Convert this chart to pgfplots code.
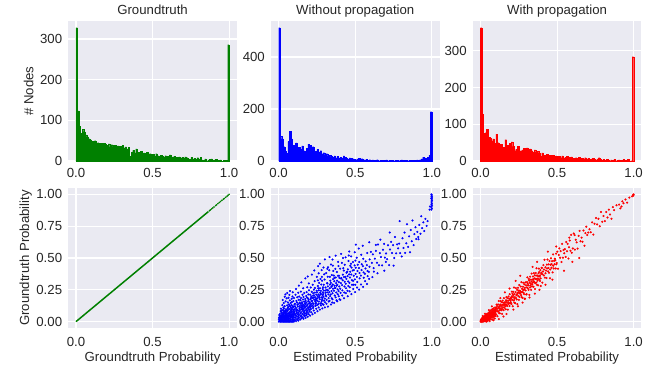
\documentclass[border=0pt]{standalone}
\usepackage{fontspec}
\setmainfont{Liberation Sans}
\usepackage{pgfplots}
\pgfplotsset{compat=1.18}
\definecolor{bg}{HTML}{EAEAF2}
\definecolor{txt}{HTML}{262626}
\definecolor{mg}{HTML}{008000}
\newcommand{\fs}{\fontsize{13.2}{15.8}\selectfont}
\pgfplotsset{
 sb/.style={
  scale only axis, width=168.5pt, height=140pt,
  axis background/.style={fill=bg},
  axis line style={draw=none},
  major tick length=0pt, tick style={draw=none},
  grid=major, major grid style={white, line width=1.1pt},
  tick label style={font=\fs, text=txt},
  label style={font=\fs, text=txt},
  every axis title shift=0pt,
  title style={font=\fs, text=txt, at={(axis description cs:0.5,1.046)}, anchor=base},
  yticklabel style={anchor=east, inner sep=0pt, xshift=-6pt},
  xmin=-0.05, xmax=1.05,
  xtick={0,0.5,1}, xticklabels={0.0,0.5,1.0},
 },
 hist/.style={sb, ymin=0, xticklabel style={anchor=base, yshift=-16pt}},
 sc/.style={sb, ymin=-0.05, ymax=1.05, ytick={0,0.25,0.5,0.75,1},
  yticklabels={0.00,0.25,0.50,0.75,1.00},
  xticklabel style={anchor=base, yshift=-18pt},
  xlabel style={at={(axis description cs:0.5,-0.239)}, anchor=base}},
}
\begin{document}
\begin{tikzpicture}
\useasboundingbox (0,0) rectangle (652pt,367pt);
% ---------------- top row: histograms ----------------
\begin{axis}[hist, at={(68.3pt,346pt)}, anchor=north west, ymax=344.4,
  ytick={0,100,200,300}, yticklabels={0,100,200,300},
  title={Groundtruth}, ylabel={\# Nodes},
  ylabel style={at={(axis description cs:-0.208,0.5)}, anchor=base}]
\addplot[const plot, fill=mg, draw=mg, line width=0.2pt] table[row sep=\\, x expr=\coordindex/100, y index=0]{
328\\123\\85\\68\\78\\72\\64\\60\\55\\52\\48\\40\\50\\42\\45\\38\\44\\40\\43\\41\\39\\42\\35\\40\\36\\38\\34\\37\\33\\36\\38\\32\\35\\30\\34\\12\\22\\26\\20\\30\\22\\18\\24\\16\\20\\17\\22\\15\\18\\14\\16\\12\\18\\13\\11\\14\\12\\10\\13\\11\\9\\15\\8\\10\\12\\9\\8\\10\\7\\9\\6\\10\\8\\5\\4\\9\\5\\6\\4\\8\\5\\9\\3\\2\\5\\0\\3\\4\\5\\2\\3\\4\\1\\2\\3\\0\\2\\1\\2\\286\\286\\
} \closedcycle;
\end{axis}
\begin{axis}[hist, at={(271pt,346pt)}, anchor=north west, ymax=538.6,
  ytick={0,200,400}, yticklabels={0,200,400},
  title={Without propagation}]
\addplot[const plot, fill=blue, draw=blue, line width=0.2pt] table[row sep=\\, x expr=\coordindex/100, y index=0]{
513\\95\\85\\55\\38\\30\\75\\115\\85\\60\\55\\70\\48\\52\\45\\58\\40\\35\\50\\65\\60\\42\\55\\30\\38\\45\\35\\40\\28\\32\\25\\28\\20\\22\\18\\15\\20\\12\\18\\10\\15\\12\\20\\14\\10\\8\\12\\10\\9\\7\\5\\8\\10\\6\\9\\5\\4\\6\\3\\5\\2\\4\\3\\2\\5\\1\\2\\3\\1\\2\\4\\1\\2\\3\\2\\1\\3\\2\\1\\2\\4\\1\\2\\3\\1\\2\\3\\1\\2\\3\\4\\2\\5\\8\\15\\12\\10\\14\\22\\190\\190\\
} \closedcycle;
\end{axis}
\begin{axis}[hist, at={(472.8pt,346pt)}, anchor=north west, ymax=381,
  ytick={0,100,200,300}, yticklabels={0,100,200,300},
  title={With propagation}]
\addplot[const plot, fill=red, draw=red, line width=0.2pt] table[row sep=\\, x expr=\coordindex/100, y index=0]{
363\\127\\75\\77\\86\\65\\62\\55\\60\\48\\73\\50\\33\\45\\34\\38\\58\\42\\30\\48\\52\\40\\28\\32\\40\\22\\28\\30\\35\\32\\36\\30\\33\\28\\25\\30\\24\\26\\22\\12\\22\\16\\15\\18\\14\\16\\12\\15\\10\\14\\11\\12\\9\\14\\8\\10\\12\\7\\10\\11\\8\\6\\9\\7\\10\\5\\8\\6\\9\\5\\7\\4\\6\\8\\5\\3\\6\\9\\4\\3\\5\\2\\4\\3\\1\\3\\2\\4\\1\\2\\3\\1\\2\\4\\2\\0\\5\\0\\1\\284\\284\\
} \closedcycle;
\end{axis}
% ---------------- bottom row: scatters ----------------
\begin{axis}[sc, at={(68.3pt,179pt)}, anchor=north west,
  xlabel={Groundtruth Probability}, ylabel={Groundtruth Probability},
  ylabel style={at={(axis description cs:-0.232,0.5)}, anchor=base}]
\addplot[mg, line width=1.5pt] coordinates {(0,0) (0.865,0.865)};
\addplot[only marks, mark=*, mg, mark size=0.6pt] coordinates {
(0.872,0.872)(0.878,0.878)(0.886,0.886)(0.893,0.893)(0.901,0.901)(0.912,0.912)(0.918,0.918)(0.927,0.927)(0.936,0.936)(0.944,0.944)(0.953,0.953)(0.962,0.962)(0.968,0.968)(0.977,0.977)(0.986,0.986)(0.993,0.993)(1.000,1.000)};
\end{axis}
\begin{axis}[sc, at={(271pt,179pt)}, anchor=north west, xlabel={Estimated Probability}]
\addplot[only marks, mark=*, blue, mark size=0.85pt] coordinates {
(0.002,0.000)(0.005,0.013)(0.003,0.031)(0.006,0.007)(0.004,0.052)(0.001,0.020)(0.007,0.041)
(0.009,0.000)(0.011,0.024)(0.008,0.061)(0.012,0.009)(0.010,0.038)(0.013,0.083)(0.009,0.017)(0.012,0.047)
(0.015,0.000)(0.017,0.031)(0.014,0.012)(0.018,0.069)(0.016,0.050)(0.019,0.004)(0.015,0.102)(0.018,0.022)(0.016,0.040)
(0.021,0.000)(0.023,0.058)(0.020,0.016)(0.024,0.035)(0.022,0.089)(0.025,0.006)(0.021,0.027)(0.024,0.130)(0.022,0.047)(0.020,0.074)
(0.027,0.000)(0.029,0.019)(0.026,0.044)(0.030,0.067)(0.028,0.008)(0.031,0.112)(0.027,0.033)(0.030,0.053)(0.026,0.170)(0.029,0.091)
(0.033,0.000)(0.035,0.028)(0.032,0.061)(0.036,0.013)(0.034,0.079)(0.037,0.042)(0.033,0.146)(0.036,0.004)(0.034,0.102)(0.032,0.036)
(0.039,0.000)(0.041,0.051)(0.038,0.022)(0.042,0.087)(0.040,0.010)(0.043,0.064)(0.039,0.121)(0.042,0.033)(0.040,0.196)(0.041,0.073)
(0.045,0.000)(0.047,0.016)(0.044,0.045)(0.048,0.098)(0.046,0.029)(0.049,0.057)(0.045,0.159)(0.048,0.006)(0.046,0.078)(0.044,0.214)(0.047,0.039)
(0.051,0.000)(0.053,0.035)(0.050,0.070)(0.054,0.012)(0.052,0.054)(0.055,0.128)(0.051,0.024)(0.054,0.088)(0.052,0.183)(0.050,0.043)
(0.057,0.000)(0.059,0.063)(0.056,0.020)(0.060,0.107)(0.058,0.039)(0.061,0.008)(0.057,0.082)(0.060,0.151)(0.058,0.048)(0.056,0.225)
(0.063,0.000)(0.065,0.027)(0.062,0.092)(0.066,0.050)(0.064,0.014)(0.067,0.136)(0.063,0.067)(0.066,0.036)(0.064,0.188)(0.062,0.115)
(0.069,0.000)(0.071,0.044)(0.068,0.010)(0.072,0.076)(0.070,0.058)(0.073,0.167)(0.069,0.025)(0.072,0.099)(0.070,0.210)(0.071,0.126)
(0.075,0.000)(0.077,0.018)(0.074,0.065)(0.078,0.038)(0.076,0.118)(0.079,0.086)(0.075,0.052)(0.078,0.145)(0.076,0.006)(0.074,0.240)
(0.081,0.000)(0.083,0.056)(0.080,0.029)(0.084,0.095)(0.082,0.072)(0.085,0.180)(0.081,0.013)(0.084,0.131)(0.082,0.042)(0.080,0.109)
(0.087,0.000)(0.089,0.034)(0.086,0.081)(0.090,0.017)(0.088,0.060)(0.091,0.122)(0.087,0.047)(0.090,0.198)(0.088,0.100)(0.086,0.154)
(0.093,0.000)(0.095,0.070)(0.092,0.023)(0.096,0.041)(0.094,0.112)(0.097,0.088)(0.093,0.009)(0.096,0.162)(0.094,0.055)(0.092,0.231)
(0.099,0.000)(0.101,0.031)(0.098,0.093)(0.102,0.062)(0.100,0.015)(0.103,0.137)(0.099,0.046)(0.102,0.078)(0.100,0.185)(0.098,0.119)
(0.106,0.010)(0.108,0.058)(0.105,0.097)(0.109,0.034)(0.107,0.141)(0.104,0.076)(0.110,0.212)(0.106,0.121)
(0.113,0.021)(0.115,0.086)(0.112,0.049)(0.116,0.163)(0.114,0.004)(0.111,0.109)(0.117,0.067)(0.113,0.256)
(0.120,0.039)(0.122,0.131)(0.119,0.075)(0.123,0.015)(0.121,0.192)(0.118,0.098)(0.124,0.057)(0.120,0.150)
(0.127,0.026)(0.129,0.069)(0.126,0.118)(0.130,0.044)(0.128,0.227)(0.125,0.089)(0.131,0.172)(0.127,0.137)(0.129,0.008)
(0.134,0.053)(0.136,0.102)(0.133,0.031)(0.137,0.149)(0.135,0.080)(0.132,0.283)(0.138,0.124)(0.134,0.197)
(0.141,0.017)(0.143,0.064)(0.140,0.113)(0.144,0.041)(0.142,0.168)(0.139,0.091)(0.145,0.236)(0.141,0.140)
(0.148,0.048)(0.150,0.097)(0.147,0.075)(0.151,0.129)(0.149,0.026)(0.146,0.186)(0.152,0.152)(0.148,0.309)(0.150,0.111)
(0.155,0.060)(0.157,0.035)(0.154,0.120)(0.158,0.084)(0.156,0.211)(0.153,0.143)(0.159,0.174)(0.155,0.101)
(0.162,0.022)(0.164,0.072)(0.161,0.133)(0.165,0.051)(0.163,0.098)(0.160,0.262)(0.166,0.157)(0.162,0.194)(0.164,0.116)
(0.169,0.043)(0.171,0.108)(0.168,0.082)(0.172,0.145)(0.170,0.063)(0.167,0.225)(0.173,0.178)(0.169,0.127)
(0.176,0.030)(0.178,0.091)(0.175,0.139)(0.179,0.066)(0.177,0.117)(0.174,0.340)(0.180,0.201)(0.176,0.163)(0.178,0.048)
(0.183,0.077)(0.185,0.124)(0.182,0.055)(0.186,0.188)(0.184,0.101)(0.181,0.150)(0.187,0.270)(0.183,0.232)
(0.190,0.038)(0.192,0.112)(0.189,0.087)(0.193,0.160)(0.191,0.069)(0.188,0.135)(0.194,0.214)(0.190,0.355)(0.192,0.182)
(0.197,0.058)(0.199,0.143)(0.196,0.099)(0.200,0.122)(0.198,0.246)(0.195,0.171)(0.201,0.080)(0.197,0.300)
(0.205,0.047)(0.207,0.131)(0.204,0.092)(0.208,0.176)(0.206,0.212)(0.203,0.153)(0.209,0.268)(0.205,0.110)
(0.213,0.073)(0.215,0.162)(0.212,0.120)(0.216,0.234)(0.214,0.197)(0.211,0.099)(0.217,0.370)(0.213,0.141)
(0.221,0.058)(0.223,0.145)(0.220,0.186)(0.224,0.107)(0.222,0.290)(0.219,0.163)(0.225,0.224)(0.221,0.127)
(0.229,0.088)(0.231,0.206)(0.228,0.139)(0.232,0.172)(0.230,0.251)(0.227,0.116)(0.233,0.402)(0.229,0.188)
(0.237,0.069)(0.239,0.157)(0.236,0.228)(0.240,0.124)(0.238,0.193)(0.235,0.318)(0.241,0.142)(0.237,0.265)
(0.245,0.101)(0.247,0.181)(0.244,0.146)(0.248,0.243)(0.246,0.212)(0.243,0.128)(0.249,0.352)(0.245,0.167)
(0.253,0.082)(0.255,0.199)(0.252,0.164)(0.256,0.280)(0.254,0.133)(0.251,0.230)(0.257,0.436)(0.253,0.183)
(0.261,0.112)(0.263,0.157)(0.260,0.214)(0.264,0.305)(0.262,0.246)(0.259,0.137)(0.265,0.190)(0.261,0.380)
(0.269,0.095)(0.271,0.227)(0.268,0.176)(0.272,0.141)(0.270,0.262)(0.267,0.203)(0.273,0.335)(0.269,0.455)
(0.277,0.127)(0.279,0.190)(0.276,0.242)(0.280,0.161)(0.278,0.291)(0.275,0.218)(0.281,0.405)(0.277,0.146)
(0.285,0.104)(0.287,0.208)(0.284,0.172)(0.288,0.257)(0.286,0.139)(0.283,0.322)(0.289,0.230)(0.285,0.187)
(0.293,0.133)(0.295,0.244)(0.292,0.196)(0.296,0.165)(0.294,0.290)(0.291,0.218)(0.297,0.372)(0.293,0.425)
(0.302,0.112)(0.305,0.226)(0.301,0.181)(0.306,0.268)(0.303,0.152)(0.300,0.331)(0.307,0.208)(0.302,0.489)
(0.312,0.140)(0.315,0.251)(0.311,0.199)(0.316,0.302)(0.313,0.171)(0.310,0.382)(0.317,0.230)
(0.322,0.118)(0.325,0.214)(0.321,0.277)(0.326,0.185)(0.323,0.245)(0.320,0.353)(0.327,0.158)(0.322,0.428)
(0.332,0.163)(0.335,0.291)(0.331,0.231)(0.336,0.200)(0.333,0.262)(0.330,0.404)(0.337,0.322)(0.332,0.507)
(0.342,0.135)(0.345,0.240)(0.341,0.305)(0.346,0.184)(0.343,0.272)(0.340,0.214)(0.347,0.366)(0.342,0.449)
(0.352,0.176)(0.355,0.258)(0.351,0.223)(0.356,0.334)(0.353,0.292)(0.350,0.150)(0.357,0.398)(0.352,0.488)
(0.362,0.147)(0.365,0.282)(0.361,0.243)(0.366,0.205)(0.363,0.318)(0.360,0.362)(0.367,0.264)
(0.372,0.191)(0.375,0.302)(0.371,0.264)(0.376,0.229)(0.373,0.347)(0.370,0.415)(0.377,0.168)(0.372,0.518)
(0.382,0.160)(0.385,0.253)(0.381,0.322)(0.386,0.215)(0.383,0.289)(0.380,0.390)(0.387,0.361)
(0.392,0.199)(0.395,0.276)(0.391,0.240)(0.396,0.344)(0.393,0.310)(0.390,0.437)(0.397,0.176)
(0.403,0.171)(0.406,0.302)(0.402,0.259)(0.407,0.338)(0.404,0.226)(0.401,0.416)(0.408,0.532)
(0.415,0.205)(0.418,0.325)(0.414,0.287)(0.419,0.369)(0.416,0.246)(0.413,0.462)
(0.427,0.184)(0.430,0.276)(0.426,0.351)(0.431,0.313)(0.428,0.229)(0.425,0.401)(0.432,0.447)
(0.439,0.224)(0.442,0.336)(0.438,0.298)(0.443,0.384)(0.440,0.262)(0.437,0.505)
(0.451,0.200)(0.454,0.316)(0.450,0.358)(0.455,0.280)(0.452,0.411)(0.449,0.243)(0.456,0.477)
(0.463,0.238)(0.466,0.347)(0.462,0.305)(0.467,0.392)(0.464,0.270)(0.461,0.551)(0.468,0.439)
(0.475,0.216)(0.478,0.326)(0.474,0.370)(0.479,0.290)(0.476,0.425)(0.473,0.512)
(0.487,0.256)(0.490,0.361)(0.486,0.321)(0.491,0.405)(0.488,0.290)(0.485,0.468)
(0.210,0.185)(0.226,0.205)(0.242,0.175)(0.258,0.262)(0.274,0.215)(0.290,0.270)(0.306,0.245)(0.318,0.300)(0.334,0.352)(0.348,0.280)(0.364,0.345)(0.378,0.282)(0.394,0.360)(0.410,0.342)
(0.422,0.420)(0.436,0.352)(0.448,0.392)(0.460,0.372)(0.472,0.455)(0.484,0.402)(0.496,0.442)(0.256,0.325)(0.282,0.352)(0.318,0.415)(0.354,0.440)(0.388,0.470)(0.420,0.500)(0.458,0.520)
(0.499,0.232)(0.502,0.375)(0.498,0.332)(0.503,0.423)(0.500,0.290)(0.497,0.545)(0.504,0.605)(0.501,0.480)
(0.512,0.268)(0.515,0.398)(0.511,0.352)(0.516,0.447)(0.513,0.312)(0.510,0.502)
(0.525,0.252)(0.528,0.382)(0.524,0.421)(0.529,0.340)(0.526,0.468)(0.523,0.574)
(0.538,0.292)(0.541,0.405)(0.537,0.362)(0.542,0.451)(0.539,0.525)
(0.551,0.273)(0.554,0.387)(0.550,0.436)(0.555,0.345)(0.552,0.494)(0.549,0.596)
(0.564,0.318)(0.567,0.418)(0.563,0.376)(0.568,0.473)
(0.577,0.296)(0.580,0.397)(0.576,0.444)(0.581,0.357)(0.578,0.539)
(0.590,0.336)(0.593,0.432)(0.589,0.391)(0.594,0.489)(0.591,0.624)
(0.602,0.548)(0.609,0.462)(0.615,0.529)(0.622,0.393)(0.628,0.495)(0.635,0.556)(0.642,0.462)(0.648,0.606)(0.655,0.443)(0.661,0.538)
(0.668,0.507)(0.675,0.442)(0.681,0.565)(0.688,0.611)(0.694,0.503)(0.701,0.536)(0.708,0.491)(0.714,0.600)(0.721,0.444)(0.727,0.567)
(0.734,0.627)(0.740,0.540)(0.747,0.601)(0.754,0.500)(0.760,0.665)(0.767,0.537)(0.773,0.607)(0.780,0.576)(0.787,0.613)(0.793,0.539)
(0.725,0.700)(0.790,0.790)(0.664,0.644)(0.634,0.603)(0.612,0.350)(0.690,0.400)(0.750,0.440)(0.645,0.380)(0.700,0.470)(0.620,0.420)
(0.803,0.512)(0.808,0.655)(0.815,0.578)(0.822,0.700)(0.826,0.540)(0.833,0.615)(0.838,0.765)(0.845,0.588)(0.851,0.670)(0.857,0.545)(0.862,0.720)(0.869,0.632)(0.874,0.795)(0.881,0.602)(0.886,0.688)(0.893,0.742)(0.898,0.650)
(0.905,0.705)(0.911,0.665)(0.913,0.648)(0.918,0.760)(0.926,0.690)(0.931,0.828)(0.937,0.735)(0.944,0.780)(0.951,0.712)(0.958,0.808)(0.966,0.752)(0.972,0.790)
(0.985,0.880)(0.988,0.905)
(0.997,0.880)(0.996,0.900)(0.998,0.920)(0.997,0.940)(0.999,0.955)(0.996,0.970)(0.998,0.985)(0.997,1.000)
(1.000,0.890)(1.001,0.910)(1.000,0.930)(1.001,0.950)(1.000,0.965)(1.001,0.980)(1.000,0.995)
};
\end{axis}
\begin{axis}[sc, at={(472.8pt,179pt)}, anchor=north west, xlabel={Estimated Probability}]
\addplot[only marks, mark=*, red, mark size=0.85pt] coordinates {
(0.001,0.000)(0.003,0.004)(0.002,0.011)(0.005,0.001)(0.004,0.018)(0.006,0.008)(0.007,0.000)(0.008,0.014)(0.009,0.025)(0.010,0.005)(0.011,0.019)(0.012,0.000)(0.013,0.010)(0.014,0.029)(0.015,0.016)(0.016,0.003)(0.017,0.022)(0.018,0.035)(0.019,0.009)(0.020,0.017)(0.021,0.028)(0.022,0.001)(0.023,0.041)(0.024,0.013)(0.025,0.024)(0.026,0.032)(0.027,0.006)(0.028,0.019)(0.029,0.046)(0.030,0.027)(0.031,0.011)(0.032,0.036)(0.033,0.022)(0.034,0.050)(0.035,0.003)(0.036,0.030)(0.037,0.017)(0.038,0.041)(0.039,0.026)(0.040,0.057)(0.041,0.012)(0.042,0.034)(0.043,0.046)(0.044,0.022)(0.045,0.063)(0.046,0.038)(0.047,0.007)(0.048,0.029)(0.049,0.051)(0.050,0.042)
(0.051,0.018)(0.052,0.066)(0.053,0.033)(0.054,0.048)(0.055,0.025)(0.056,0.059)(0.057,0.040)(0.058,0.074)(0.059,0.012)(0.060,0.052)(0.061,0.036)(0.062,0.065)(0.063,0.028)(0.064,0.083)(0.065,0.047)(0.066,0.058)(0.067,0.021)(0.068,0.071)(0.069,0.043)(0.070,0.091)(0.071,0.055)(0.072,0.034)(0.073,0.066)(0.074,0.049)(0.075,0.080)(0.076,0.016)(0.077,0.060)(0.078,0.098)(0.079,0.044)(0.080,0.072)(0.081,0.057)(0.082,0.030)(0.083,0.087)(0.084,0.064)(0.085,0.048)(0.086,0.105)(0.087,0.076)(0.088,0.039)(0.089,0.062)(0.090,0.093)(0.091,0.053)(0.092,0.081)(0.093,0.024)(0.094,0.070)(0.095,0.112)(0.096,0.060)(0.097,0.088)(0.098,0.045)(0.099,0.076)(0.100,0.099)
(0.015,0.045)(0.030,0.062)(0.055,0.090)(0.075,0.120)(0.040,0.000)(0.060,0.004)(0.085,0.010)
(0.101,0.099)(0.103,0.057)(0.105,0.134)(0.107,0.084)(0.109,0.122)(0.111,0.043)(0.113,0.101)(0.115,0.135)(0.117,0.081)(0.119,0.162)(0.121,0.068)(0.123,0.122)(0.125,0.104)(0.127,0.065)(0.129,0.135)(0.131,0.161)(0.133,0.098)(0.135,0.116)(0.137,0.090)(0.139,0.152)(0.141,0.061)(0.143,0.131)(0.145,0.165)(0.147,0.114)(0.149,0.148)
(0.151,0.090)(0.153,0.184)(0.155,0.109)(0.157,0.149)(0.159,0.131)(0.161,0.154)(0.163,0.136)(0.165,0.098)(0.167,0.168)(0.169,0.193)(0.171,0.131)(0.173,0.149)(0.175,0.123)(0.177,0.184)(0.179,0.094)(0.181,0.164)(0.183,0.197)(0.185,0.147)(0.187,0.181)(0.189,0.123)(0.191,0.216)(0.193,0.142)(0.195,0.182)(0.197,0.163)(0.199,0.183)
(0.104,0.110)(0.112,0.080)(0.118,0.112)(0.126,0.090)(0.134,0.128)(0.142,0.100)(0.152,0.130)(0.162,0.120)(0.172,0.162)(0.182,0.140)(0.192,0.170)(0.198,0.150)
(0.120,0.020)(0.150,0.040)(0.170,0.060)(0.130,0.185)(0.160,0.230)(0.190,0.260)
(0.201,0.192)(0.203,0.139)(0.205,0.235)(0.207,0.172)(0.209,0.219)(0.211,0.121)(0.213,0.192)(0.215,0.234)(0.217,0.166)(0.219,0.268)(0.221,0.149)(0.223,0.216)(0.225,0.193)(0.227,0.145)(0.229,0.232)(0.231,0.263)(0.233,0.185)(0.235,0.207)(0.237,0.174)(0.239,0.250)(0.241,0.137)(0.243,0.224)(0.245,0.266)(0.247,0.202)(0.249,0.244)
(0.251,0.171)(0.253,0.288)(0.255,0.194)(0.257,0.244)(0.259,0.220)(0.261,0.235)(0.263,0.276)(0.265,0.208)(0.267,0.310)(0.269,0.192)(0.271,0.258)(0.273,0.235)(0.275,0.187)(0.277,0.274)(0.279,0.306)(0.281,0.227)(0.283,0.249)(0.285,0.216)(0.287,0.293)(0.289,0.179)(0.291,0.266)(0.293,0.308)(0.295,0.245)(0.297,0.286)(0.299,0.213)
(0.206,0.200)(0.222,0.180)(0.238,0.215)(0.254,0.225)(0.270,0.230)(0.286,0.255)(0.214,0.210)(0.246,0.230)(0.278,0.250)
(0.215,0.095)(0.245,0.120)(0.275,0.150)(0.230,0.320)(0.260,0.360)(0.290,0.180)
(0.301,0.216)(0.304,0.312)(0.306,0.348)(0.309,0.262)(0.311,0.286)(0.314,0.250)(0.316,0.335)(0.319,0.210)(0.321,0.306)(0.324,0.353)(0.326,0.283)(0.329,0.330)(0.331,0.250)(0.334,0.378)(0.336,0.276)(0.339,0.330)(0.341,0.306)(0.344,0.333)(0.346,0.274)(0.349,0.381)
(0.351,0.312)(0.354,0.364)(0.356,0.256)(0.359,0.336)(0.361,0.382)(0.364,0.307)(0.366,0.419)(0.369,0.289)(0.371,0.363)(0.374,0.338)(0.376,0.285)(0.379,0.381)(0.381,0.417)(0.384,0.331)(0.386,0.355)(0.389,0.319)(0.391,0.404)(0.394,0.280)(0.396,0.375)(0.399,0.422)
(0.303,0.270)(0.308,0.300)(0.313,0.285)(0.318,0.322)(0.323,0.268)(0.328,0.298)(0.333,0.315)(0.338,0.292)(0.343,0.355)(0.348,0.318)(0.353,0.340)(0.358,0.302)(0.363,0.362)(0.368,0.335)(0.373,0.322)(0.378,0.356)(0.383,0.390)(0.388,0.362)(0.393,0.340)(0.398,0.385)
(0.320,0.190)(0.355,0.220)(0.385,0.250)(0.340,0.430)(0.370,0.470)
(0.401,0.423)(0.404,0.306)(0.408,0.394)(0.411,0.444)(0.414,0.363)(0.418,0.487)(0.421,0.346)(0.424,0.427)(0.428,0.401)(0.431,0.343)(0.434,0.448)(0.438,0.488)(0.441,0.395)(0.444,0.422)(0.448,0.384)
(0.451,0.476)(0.454,0.341)(0.458,0.447)(0.461,0.498)(0.464,0.423)(0.468,0.475)(0.471,0.387)(0.474,0.528)(0.478,0.418)(0.481,0.478)(0.484,0.451)(0.488,0.482)(0.491,0.418)(0.494,0.535)(0.498,0.461)
(0.405,0.372)(0.415,0.410)(0.425,0.380)(0.435,0.418)(0.445,0.450)(0.455,0.410)(0.465,0.452)(0.475,0.440)(0.485,0.495)(0.495,0.450)
(0.425,0.290)(0.470,0.330)(0.440,0.550)(0.495,0.590)
(0.502,0.550)(0.506,0.416)(0.511,0.523)(0.515,0.575)(0.520,0.502)(0.524,0.554)(0.529,0.469)(0.533,0.611)(0.538,0.502)(0.542,0.563)(0.547,0.538)
(0.551,0.569)(0.556,0.508)(0.560,0.626)(0.565,0.553)(0.569,0.611)(0.574,0.496)(0.578,0.584)(0.583,0.637)(0.587,0.557)(0.592,0.682)(0.596,0.542)
(0.545,0.400)(0.580,0.660)(0.600,0.470)
(0.603,0.575)(0.609,0.692)(0.616,0.566)(0.622,0.644)(0.628,0.623)(0.634,0.574)(0.641,0.674)(0.647,0.713)(0.653,0.631)(0.660,0.660)(0.666,0.628)(0.672,0.716)(0.679,0.597)(0.685,0.696)(0.691,0.746)(0.697,0.681)
(0.645,0.500)(0.615,0.680)
(0.704,0.700)(0.712,0.726)(0.720,0.703)(0.729,0.780)(0.737,0.684)(0.745,0.769)(0.754,0.814)(0.762,0.764)(0.770,0.808)(0.779,0.750)(0.787,0.861)(0.795,0.784)
(0.803,0.830)(0.812,0.790)(0.821,0.862)(0.829,0.818)(0.838,0.880)(0.846,0.842)(0.855,0.808)(0.864,0.900)(0.872,0.876)(0.888,0.915)
(0.905,0.920)(0.913,0.890)(0.926,0.945)(0.934,0.930)(0.947,0.960)(0.958,0.935)(0.972,0.975)(0.990,0.985)(0.995,0.995)(1.000,1.000)(0.998,0.990)(0.921,0.905)
};
\end{axis}
\end{tikzpicture}
\end{document}
